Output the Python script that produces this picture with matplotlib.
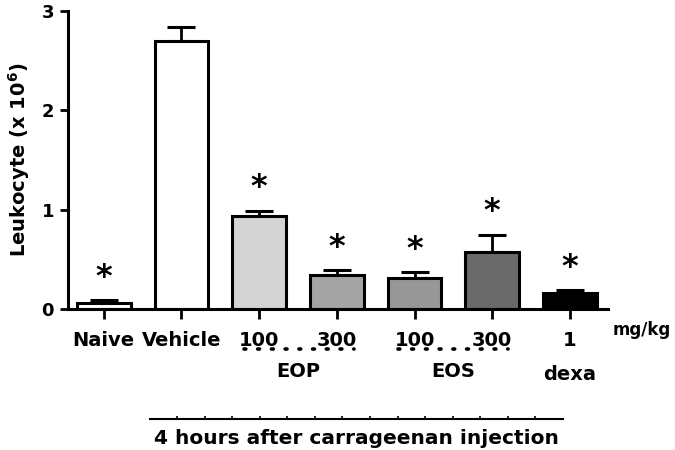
import matplotlib.pyplot as plt
import numpy as np

plt.rcParams['font.family'] = 'DejaVu Sans'
plt.rcParams['font.weight'] = 'bold'
plt.rcParams['mathtext.default'] = 'bf'

# data
grupos = ['Naive', 'Vehicle', '100', '300', '100', '300', '1']
valores = [0.06, 2.70, 0.94, 0.34, 0.31, 0.57, 0.16]
errores = [0.03, 0.14, 0.05, 0.05, 0.06, 0.18, 0.03]
colores = ['white', 'white', '#d4d4d4', '#a4a4a4', '#979797', '#6a6a6a', 'black']
significativo = [True, False, True, True, True, True, True]

fig = plt.figure(figsize=(6.75, 4.5), dpi=100)
ax = fig.add_axes([0.1007, 0.3133, 0.80, 0.662])

x = np.arange(len(grupos))
ax.bar(x, valores, width=0.69, color=colores, edgecolor='black', linewidth=2.2, zorder=2)
ax.errorbar(x, valores, yerr=[np.zeros(len(errores)), errores], fmt='none',
            ecolor='black', elinewidth=2.0, capsize=10, capthick=2.2, zorder=1)

# asteriscos
for xi, v, e, s in zip(x, valores, errores, significativo):
    if s:
        ax.text(xi, v + e + 0.23, '*', ha='center', va='center', fontsize=23, fontweight='bold')

ax.set_xlim(-0.46, 6.49)
ax.set_ylim(0, 3)
ax.set_yticks([0, 1, 2, 3])
ax.set_xticks(x)
ax.set_xticklabels(grupos, fontsize=14)
for lbl in ax.get_yticklabels():
    lbl.set_fontsize(13)
ax.tick_params(axis='y', length=6, width=2, pad=4)
ax.tick_params(axis='x', length=7, width=2, pad=9)
ax.set_ylabel(r'Leukocyte (x 10$^{6}$)', fontsize=14, fontweight='bold', labelpad=7)

for side in ['top', 'right']:
    ax.spines[side].set_visible(False)
for side in ['left', 'bottom']:
    ax.spines[side].set_linewidth(2.2)

trans = ax.get_xaxis_transform()

# lineas punteadas de grupos
for x0, x1 in [(1.81, 3.22), (3.79, 5.20)]:
    ax.plot([x0, x1], [-0.134, -0.134], transform=trans, clip_on=False, color='black',
            linewidth=2.6, linestyle=(0, (0.5, 3.3)), dash_capstyle='round')
ax.text(2.5, -0.21, 'EOP', transform=trans, ha='center', va='center', fontsize=14)
ax.text(4.5, -0.21, 'EOS', transform=trans, ha='center', va='center', fontsize=14)
ax.text(6.0, -0.22, 'dexa', transform=trans, ha='center', va='center', fontsize=14)
ax.text(6.55, -0.07, 'mg/kg', transform=trans, ha='left', va='center', fontsize=12)

# linea inferior con marcas
ax.plot([0.59, 5.91], [-0.369, -0.369], transform=trans, clip_on=False, color='black', linewidth=1.5)
marcas = np.linspace(0.59, 5.91, 16)[1:-1]
ax.plot(marcas, np.full(len(marcas), -0.366), transform=trans, clip_on=False, linestyle='none',
        marker='|', markersize=3, color='black', markeredgewidth=1.2)
ax.text(3.25, -0.435, '4 hours after carrageenan injection', transform=trans,
        ha='center', va='center', fontsize=14.5)

plt.savefig('out.png', dpi=100)
plt.close()
